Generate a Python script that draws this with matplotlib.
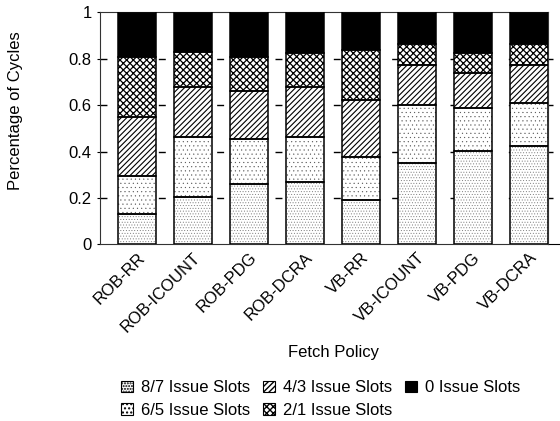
import matplotlib
matplotlib.use("Agg")
import matplotlib.pyplot as plt
from matplotlib.patches import Patch
import numpy as np

plt.rcParams['font.family'] = ['Liberation Sans', 'DejaVu Sans']
plt.rcParams['font.size'] = 12

policies = ["ROB-RR", "ROB-ICOUNT", "ROB-PDG", "ROB-DCRA",
            "VB-RR", "VB-ICOUNT", "VB-PDG", "VB-DCRA"]

slots_87 = [0.131, 0.204, 0.260, 0.270, 0.190, 0.350, 0.401, 0.425]
slots_65 = [0.165, 0.258, 0.193, 0.194, 0.188, 0.252, 0.186, 0.183]
slots_43 = [0.252, 0.215, 0.208, 0.213, 0.244, 0.170, 0.152, 0.165]
slots_21 = [0.258, 0.151, 0.148, 0.149, 0.216, 0.090, 0.087, 0.089]
slots_0 = [0.194, 0.172, 0.191, 0.174, 0.162, 0.138, 0.174, 0.138]

# label, values, face colour, hatch, hatch colour, hatch line width
series = [
    ("8/7 Issue Slots", slots_87, "white", "......", "#777777", 0.35),
    ("6/5 Issue Slots", slots_65, "white", "....", "#555555", 0.3),
    ("4/3 Issue Slots", slots_43, "white", "//////", "black", 0.8),
    ("2/1 Issue Slots", slots_21, "white", "xxxxx", "black", 0.9),
    ("0 Issue Slots", slots_0, "black", "", "black", 0.8),
]

fig = plt.figure(figsize=(5.6, 4.21), dpi=100)
ax = fig.add_axes([100 / 560, 1 - 244.4 / 421, 448 / 560, 232 / 421])

x = np.arange(len(policies))
width = 0.68
bottom = np.zeros(len(policies))
handles = []
for label, vals, face, hatch, hcol, hlw in series:
    vals = np.array(vals)
    with plt.rc_context({'hatch.linewidth': hlw}):
        # hatch drawn in its own colour, outline drawn on top in black
        ax.bar(x, vals, width, bottom=bottom, color=face, edgecolor=hcol,
               hatch=hatch, linewidth=0, zorder=2)
        handles.append(Patch(facecolor=face, edgecolor="black", hatch=hatch,
                             linewidth=0.8, label=label))
    ax.bar(x, vals, width, bottom=bottom, fill=False, edgecolor="black",
           linewidth=1.1, zorder=3)
    bottom += vals

ax.set_xlim(-0.66, 7.34)
ax.set_ylim(0, 1)
ax.set_yticks([0, 0.2, 0.4, 0.6, 0.8, 1.0])
ax.set_yticklabels(["0", "0.2", "0.4", "0.6", "0.8", "1"])
ax.tick_params(axis='y', direction='out', length=2.5, width=0.8, pad=3.5)
ax.set_xticks(x)
ax.set_xticklabels(policies, rotation=45, ha='right', rotation_mode='anchor')
ax.tick_params(axis='x', length=0, pad=4)

grid_vals = [0.2, 0.4, 0.6, 0.8]
for v in grid_vals:
    ax.axhline(v, color="black", linewidth=1.0, linestyle=(0, (5, 37)), zorder=1)
ax.hlines(grid_vals, 1.0, 1.012, transform=ax.get_yaxis_transform(),
          clip_on=False, color="black", linewidth=1.0)
# bottom axis line continues to the edge
ax.plot([1.0, 1.05], [0, 0], transform=ax.transAxes, clip_on=False,
        color="black", linewidth=0.8)

for s in ax.spines.values():
    s.set_linewidth(0.8)
    s.set_color("#333333")

ax.set_ylabel("Percentage of Cycles")
ax.yaxis.set_label_coords(-0.172, (244.4 - 111) / 232)
fig.text(333 / 560, 1 - 352 / 421, "Fetch Policy", ha="center", va="center")

fig.legend(handles=handles, ncol=3, loc="upper left",
           bbox_to_anchor=(113 / 560, 1 - 372 / 421), frameon=False,
           borderpad=0, handlelength=0.72, handleheight=0.72,
           handletextpad=0.45, columnspacing=0.8, labelspacing=0.45)

fig.savefig("out.png", dpi=100)
